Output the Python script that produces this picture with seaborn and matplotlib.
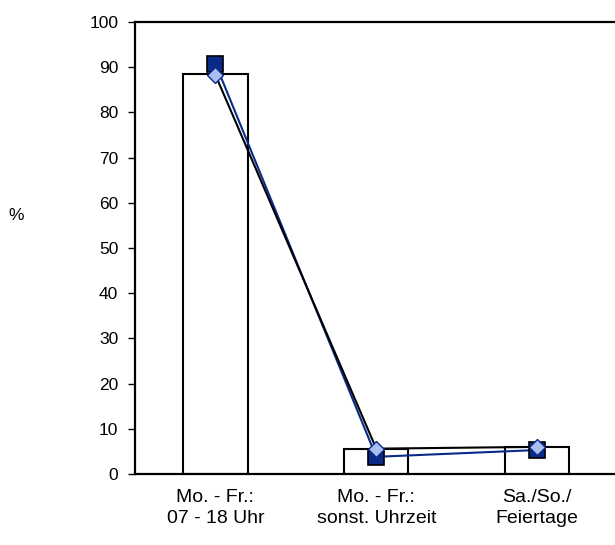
import matplotlib
matplotlib.use("Agg")
import matplotlib.pyplot as plt
import seaborn as sns

# data
categories = ["Mo. - Fr.:\n07 - 18 Uhr", "Mo. - Fr.:\nsonst. Uhrzeit", "Sa./So./\nFeiertage"]
bar_values = [88.5, 5.5, 6.0]
square_values = [90.8, 3.8, 5.3]
diamond_values = [88.3, 5.6, 6.0]
y_ticks = list(range(0, 101, 10))

sns.set_style("white", {"text.color": "black", "xtick.color": "black",
                        "ytick.color": "black", "axes.labelcolor": "black"})
plt.rcParams['font.family'] = ['Liberation Sans', 'DejaVu Sans']

fig = plt.figure(figsize=(6.15, 5.45), dpi=100)
ax = fig.add_axes([0.2195, 0.1303, 0.7805, 0.8293])

sns.barplot(x=categories, y=bar_values, color="white", edgecolor="black",
            linewidth=1.5, width=0.4, saturation=1, ax=ax, zorder=2)

sns.lineplot(x=categories, y=square_values, sort=False, color="#0a2a8a", linewidth=1.5,
             marker="s", markersize=11, markerfacecolor="#0a2a8a",
             markeredgecolor="black", markeredgewidth=1.2, ax=ax, zorder=3)
sns.lineplot(x=categories, y=diamond_values, sort=False, color="black", linewidth=1.5,
             marker="D", markersize=8, markerfacecolor="#a9bff0",
             markeredgecolor="#0a2a8a", markeredgewidth=1.0, ax=ax, zorder=4)

ax.set_xlim(-0.5, 2.484)
ax.set_ylim(0, 100)
ax.set_yticks(y_ticks)
ax.tick_params(axis="y", direction="out", length=5, width=1, labelsize=12.5, pad=7,
               left=True, colors="black")
ax.tick_params(axis="x", length=0, labelsize=14, pad=11, colors="black")
for lab in ax.get_xticklabels():
    lab.set_linespacing(1.3)
for s in ax.spines.values():
    s.set_linewidth(1.6)
    s.set_color("black")
ax.spines["right"].set_visible(False)
ax.set_xlabel("")
ax.set_ylabel("")
fig.text(0.026, 0.605, "%", fontsize=12.5, ha="center", va="center", color="black")

fig.savefig("out.png", dpi=100)
